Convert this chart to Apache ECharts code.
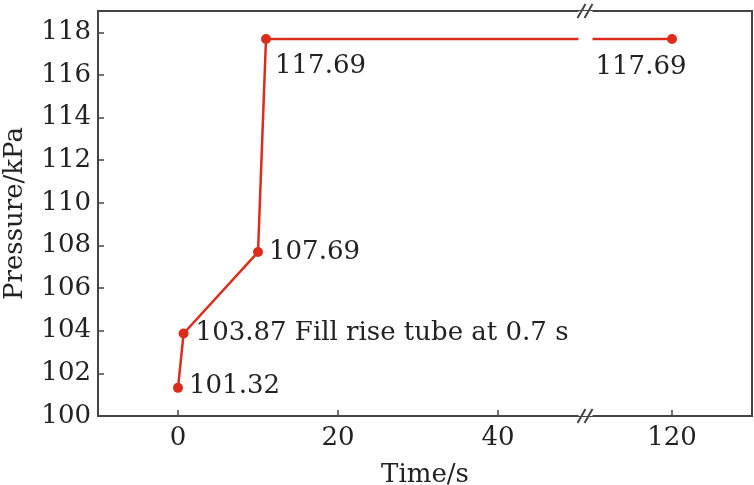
<!DOCTYPE html>
<html>
<head>
<meta charset="utf-8">
<script src="https://cdn.jsdelivr.net/npm/echarts@6/dist/echarts.min.js"></script>
<style>
	html,body{margin:0;padding:0;background:#fff;}
	#pressureLine{width:754px;height:485px;}
</style>
</head>
<body>
<div id="pressureLine"></div>
<script>
var timeData = [0, 0.7, 10, 11, 120]
var pressureData = [101.32, 103.87, 107.69, 117.69, 117.69]
var noteData = ['', ' Fill rise tube at 0.7 s', '', '', '']
var xTicks = [0, 20, 40, 120]
var yTicks = [100, 102, 104, 106, 108, 110, 112, 114, 116, 118]

var fontName = 'DejaVu Serif'
var fontSize = 26
var textColor = '#222'
var lineColor = '#444'
var redColor = '#dc2c1c'

// 每个点标签的位置
var labelPos = [
	{position: 'right', distance: 6, offset: [0, -2]},
	{position: 'right', distance: 7, offset: [0, 0]},
	{position: 'right', distance: 6, offset: [0, 0]},
	{position: 'right', distance: 4, offset: [0, 27]},
	{position: 'inside', offset: [-31, 28]}
]

var pointData = []
for (var i = 0; i < timeData.length; i++) {
	pointData.push({
		value: [timeData[i], pressureData[i]],
		label: labelPos[i]
	})
}

var pressureLine = echarts.init(document.getElementById('pressureLine'))
var optionPressureLine = {
	animation: false,
	grid: {
		left: 98,
		right: 2,
		top: 11,
		bottom: 69,
		show: true,
		borderColor: lineColor,
		borderWidth: 2,
		outerBoundsMode: 'none'
	},
	xAxis: {
		type: 'value',
		min: -10,
		max: 130,
		breaks: [{start: 50, end: 110, gap: 1.75}],
		breakArea: {
			show: true,
			itemStyle: {
				color: '#fff',
				borderColor: '#fff',
				borderWidth: 0,
				opacity: 1
			},
			zigzagAmplitude: 0,
			expandOnClick: false
		},
		name: 'Time/s',
		nameLocation: 'middle',
		nameGap: 46,
		nameTextStyle: {color: textColor, fontFamily: fontName, fontSize: fontSize},
		axisLine: {show: true, onZero: false, lineStyle: {color: lineColor, width: 2}},
		axisTick: {show: true, inside: true, length: 6, customValues: xTicks, lineStyle: {color: lineColor, width: 1.5}},
		axisLabel: {show: true, customValues: xTicks, margin: 9, color: textColor, fontFamily: fontName, fontSize: fontSize},
		splitLine: {show: false}
	},
	yAxis: {
		type: 'value',
		min: 100,
		max: 119,
		name: 'Pressure/kPa',
		nameLocation: 'middle',
		nameGap: 70,
		nameTextStyle: {color: textColor, fontFamily: fontName, fontSize: fontSize},
		axisLine: {show: true, onZero: false, lineStyle: {color: lineColor, width: 2}},
		axisTick: {show: true, inside: true, length: 6, customValues: yTicks, lineStyle: {color: lineColor, width: 1.5}},
		axisLabel: {show: true, customValues: yTicks, margin: 7, color: textColor, fontFamily: fontName, fontSize: fontSize},
		splitLine: {show: false}
	},
	series: [
		{
			type: 'line',
			data: pointData,
			symbol: 'circle',
			symbolSize: 10,
			itemStyle: {color: redColor},
			lineStyle: {color: redColor, width: 2.5},
			label: {
				show: true,
				color: textColor,
				fontFamily: fontName,
				fontSize: fontSize,
				formatter: function (p) {
					return pressureData[p.dataIndex].toFixed(2) + noteData[p.dataIndex]
				}
			}
		}
	]
}
pressureLine.setOption(optionPressureLine)

// 坐标轴断开处的双斜线
var bx = (pressureLine.convertToPixel({xAxisIndex: 0}, 50) + pressureLine.convertToPixel({xAxisIndex: 0}, 110)) / 2
var yTop = pressureLine.convertToPixel({yAxisIndex: 0}, 119)
var yBottom = pressureLine.convertToPixel({yAxisIndex: 0}, 100)
var slashes = []
var ys = [yTop, yBottom]
for (var a = 0; a < ys.length; a++) {
	for (var b = -1; b <= 1; b += 2) {
		slashes.push({
			type: 'line',
			z: 200,
			shape: {x1: bx + b * 3.5 - 4, y1: ys[a] + 7, x2: bx + b * 3.5 + 4, y2: ys[a] - 7},
			style: {stroke: lineColor, lineWidth: 2}
		})
	}
}
pressureLine.setOption({graphic: slashes})
</script>
</body>
</html>
